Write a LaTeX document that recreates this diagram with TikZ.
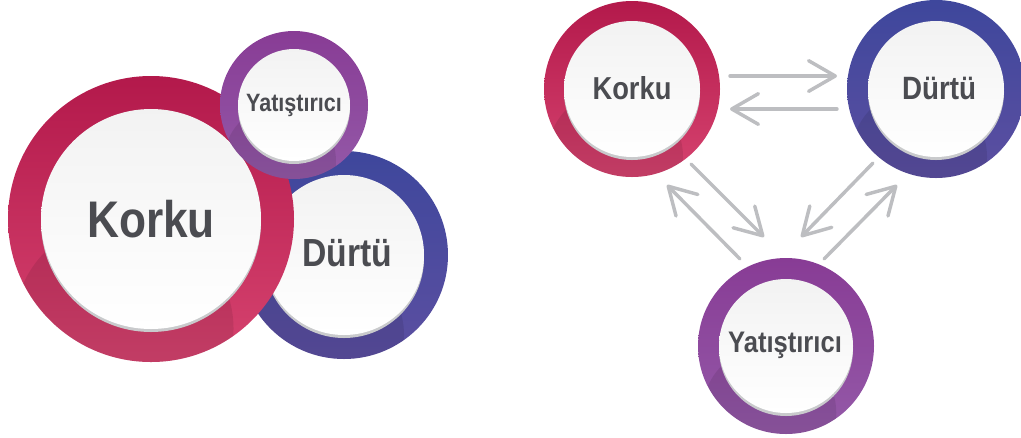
\documentclass[tikz,border=0pt]{standalone}
\usepackage{fontspec}
\newfontfamily\lblfont[FakeStretch=0.86]{Liberation Sans}
\usetikzlibrary{arrows.meta,calc}

\definecolor{korkuTop}{HTML}{B3194B}
\definecolor{korkuBot}{HTML}{D6436F}
\definecolor{durtuTop}{HTML}{3E479C}
\definecolor{durtuBot}{HTML}{5C4FA1}
\definecolor{yatTop}{HTML}{883C95}
\definecolor{yatBot}{HTML}{9459A8}
\definecolor{arrowGray}{HTML}{BDBEC1}
\definecolor{rimGray}{HTML}{C9CACC}
\definecolor{txtGray}{HTML}{4B4C51}

\tikzset{
  ringout/.style={circle, inner sep=0pt, draw=none, shading angle=15},
  ringin/.style={circle, inner sep=0pt, draw=none, top color=black!5, bottom color=white},
  lbl/.style={text=txtGray, anchor=base, inner sep=0pt, font=\lblfont\bfseries},
  flow/.style={draw=arrowGray, line width=2.6pt, line cap=round,
    -{Straight Barb[length=20pt, width=23pt, round]}}
}

% ring: name, x, y, outer radius, inner radius, top colour, bottom colour
\newcommand\ring[7]{%
  \node[ringout, minimum size=#4*1.5pt, top color=#6, bottom color=#7] (#1) at (#2,#3) {};
  \begin{scope}
    \clip (#1) circle[radius=#4];
    \draw[black, opacity=.09, line width=#5*1.5pt, line cap=round]
      (#1) -- ($(#1)+(-0.25*#5,1.0*#5)$);
  \end{scope}
  \fill[rimGray] ($(#1)+(0,3)$) circle[radius=#5];
  \node[ringin, minimum size=#5*1.5pt] (#1-in) at (#1) {};
}

\begin{document}
\begin{tikzpicture}[x=0.75pt, y=-0.75pt]
  \useasboundingbox (0,0) rectangle (1021,437);

  %%%%% left: overlapping rings %%%%%
  \ring{dL}{344}{255}{104}{80}{durtuTop}{durtuBot}
  \ring{kL}{151}{219}{143}{110}{korkuTop}{korkuBot}
  \ring{yL}{294}{105}{74}{56}{yatTop}{yatBot}

  \node[lbl, font=\lblfont\bfseries\fontsize{38.6}{40}\selectfont] (kL-t) at (151,237) {Korku};
  \node[lbl, font=\lblfont\bfseries\fontsize{29.4}{31}\selectfont] (dL-t) at (347,266) {Dürtü};
  \node[lbl, font=\lblfont\bfseries\fontsize{18.8}{20}\selectfont] (yL-t) at (294,111) {Yatıştırıcı};

  %%%%% right: cycle %%%%%
  \ring{kR}{632}{89}{88}{68}{korkuTop}{korkuBot}
  \ring{dR}{936}{89}{89}{68}{durtuTop}{durtuBot}
  \ring{yR}{786}{346}{88}{67}{yatTop}{yatBot}

  \node[lbl, font=\lblfont\bfseries\fontsize{23.8}{25}\selectfont] (kR-t) at (632,99) {Korku};
  \node[lbl, font=\lblfont\bfseries\fontsize{24.2}{25}\selectfont] (dR-t) at (939,99) {Dürtü};
  \node[lbl, font=\lblfont\bfseries\fontsize{22.3}{24}\selectfont] (yR-t) at (785,352) {Yatıştırıcı};

  \draw[flow] ($(kR)+(98,-13)$) -- ($(dR)+(-99,-13)$);
  \draw[flow] ($(dR)+(-99,20)$) -- ($(kR)+(98,20)$);

  \draw[flow] ($(kR)+(59,75)$) -- ($(yR)+(-22,-109)$);
  \draw[flow] ($(yR)+(-46,-87)$) -- ($(kR)+(35,96)$);
  \draw[flow] ($(dR)+(-63,74)$) -- ($(yR)+(15,-109)$);
  \draw[flow] ($(yR)+(38,-87)$) -- ($(dR)+(-39,96)$);

\end{tikzpicture}
\end{document}
